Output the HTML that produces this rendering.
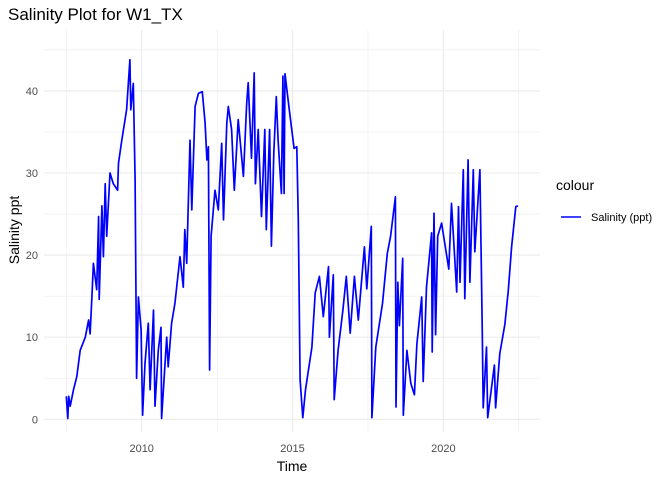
<!DOCTYPE html>
<html><head><meta charset="utf-8"><style>
html,body{margin:0;padding:0;background:#fff;}
svg text{font-family:"Liberation Sans",Arial,sans-serif;}
</style></head><body>
<svg id="chart" width="672" height="480">
<text x="8" y="20" font-size="17" fill="#000">Salinity Plot for W1_TX</text>
<g id="grid"></g>
<g id="yticks"></g>
<g id="xticks"></g>
<path id="line" fill="none" stroke="#0000ff" stroke-width="1.7" stroke-linejoin="round"></path>
<text x="292" y="471" font-size="14" text-anchor="middle">Time</text>
<text transform="translate(19,230) rotate(-90)" font-size="14" text-anchor="middle">Salinity ppt</text>
<g>
<text x="556" y="190" font-size="14">colour</text>
<line x1="561" y1="217" x2="581" y2="217" stroke="#0000ff" stroke-width="1.4"></line>
<text x="591" y="221" font-size="11" fill="#000">Salinity (ppt)</text>
</g>
</svg>
<script>
const times = [2007.5,2007.55,2007.58,2007.63,2007.74,2007.85,2007.96,2008.13,2008.24,2008.29,2008.35,2008.4,2008.51,2008.57,2008.59,2008.68,2008.73,2008.79,2008.84,2008.95,2009.06,2009.2,2009.23,2009.34,2009.5,2009.61,2009.64,2009.72,2009.78,2009.83,2009.89,2009.98,2010.03,2010.11,2010.22,2010.28,2010.39,2010.44,2010.55,2010.64,2010.66,2010.83,2010.88,2010.99,2011.1,2011.27,2011.38,2011.43,2011.49,2011.6,2011.66,2011.77,2011.88,2012.01,2012.1,2012.16,2012.21,2012.25,2012.3,2012.43,2012.54,2012.65,2012.71,2012.82,2012.87,2012.98,2013.07,2013.2,2013.37,2013.48,2013.53,2013.64,2013.73,2013.77,2013.86,2013.97,2014.08,2014.13,2014.24,2014.3,2014.38,2014.46,2014.52,2014.63,2014.68,2014.72,2014.75,2014.85,2014.95,2015.05,2015.14,2015.19,2015.25,2015.34,2015.43,2015.64,2015.75,2015.89,2016.02,2016.19,2016.22,2016.35,2016.38,2016.51,2016.67,2016.78,2016.91,2017.05,2017.18,2017.38,2017.46,2017.61,2017.63,2017.76,2017.98,2018.14,2018.25,2018.41,2018.43,2018.49,2018.54,2018.65,2018.67,2018.79,2018.92,2019.04,2019.12,2019.28,2019.33,2019.44,2019.61,2019.63,2019.69,2019.74,2019.81,2019.94,2020.18,2020.27,2020.44,2020.5,2020.55,2020.66,2020.71,2020.82,2020.88,2020.99,2021.04,2021.21,2021.29,2021.32,2021.43,2021.47,2021.69,2021.73,2021.87,2022.04,2022.15,2022.26,2022.4,2022.47];
const salinity = [2.8,0.1,2.8,1.6,3.6,5.2,8.4,10,12.1,10.4,14.9,19,15.8,24.7,14.6,26,19.8,28.7,22.3,30,28.7,27.9,31.2,34,37.7,43.8,37.7,40.9,29.2,5,14.9,10.9,0.5,6.8,11.7,3.6,13.3,1.6,8.4,11.2,0.1,10,6.4,11.7,14.1,19.8,16.1,23.1,19,34,25.5,38.1,39.7,39.9,36.1,31.6,33.2,6,22.3,27.9,25.5,33.6,24.3,36.1,38.1,35.3,27.9,36.5,29.6,38.5,41,31.8,42.2,28.7,35.3,24.7,35.3,23.1,35.3,21.1,32.4,39.3,34,27.5,41.8,27.5,42.1,39,36,33,33.2,24.3,4.8,0.2,3.6,8.8,15.4,17.4,12.5,18.6,10,17.6,2.4,8.4,13.3,17.4,10.5,17.4,12.1,21,15.9,23.5,0.2,8.8,14.1,20.2,22.3,27.1,1.5,16.7,11.4,19.6,0.5,8.4,4.4,3,9.2,14.9,4.6,16.1,22.7,8.2,25.1,10.3,22.3,23.9,18.3,26.3,15.5,25.9,16.7,30.4,14.7,31.6,16.7,30.4,20.4,30.4,10.5,1.4,8.8,0.2,6.6,1.4,8,11.6,15.7,21,25.9,26];
const yTickVals = [0,10,20,30,40];
const yMinor = [5,15,25,35,45];
const xTickVals = [2010,2015,2020];
const xMinor = [2007.5,2012.5,2017.5,2022.5];

const L=44,R=540,T=30,B=432;
const xs = t => 141.7 + (t-2010)*30.17;
const ys = v => 419.3 - v*8.21;
const ns='http://www.w3.org/2000/svg';
const grid=document.getElementById('grid');
function ln(x1,y1,x2,y2,w,parent,name){const l=document.createElementNS(ns,'line');
l.setAttribute('x1',x1);l.setAttribute('y1',y1);l.setAttribute('x2',x2);l.setAttribute('y2',y2);
l.setAttribute('stroke','#ebebeb');l.setAttribute('stroke-width',w);


parent.appendChild(l);}
yMinor.forEach(v=>ln(L,ys(v),R,ys(v),0.6,grid,'minor-gridline'));
xMinor.forEach(t=>ln(xs(t),T,xs(t),B,0.6,grid,'minor-gridline'));
yTickVals.forEach(v=>ln(L,ys(v),R,ys(v),1.1,grid,'major-gridline'));
xTickVals.forEach(t=>ln(xs(t),T,xs(t),B,1.1,grid,'major-gridline'));
function tx(x,y,s,anchor,parent,name){const e=document.createElementNS(ns,'text');
e.setAttribute('x',x);e.setAttribute('y',y);e.setAttribute('font-size','11');e.setAttribute('fill','#4d4d4d');
e.setAttribute('text-anchor',anchor);e.textContent=s;


parent.appendChild(e);}
const yg=document.getElementById('yticks'), xg=document.getElementById('xticks');
yTickVals.forEach(v=>tx(38,ys(v)+4,String(v),'end',yg,'y-tick-label'));
xTickVals.forEach(t=>tx(xs(t),452,String(t),'middle',xg,'x-tick-label'));
document.getElementById('line').setAttribute('d',times.map((t,i)=>(i?'L':'M')+xs(t).toFixed(1)+','+ys(salinity[i]).toFixed(1)).join(''));
</script>
</body></html>
